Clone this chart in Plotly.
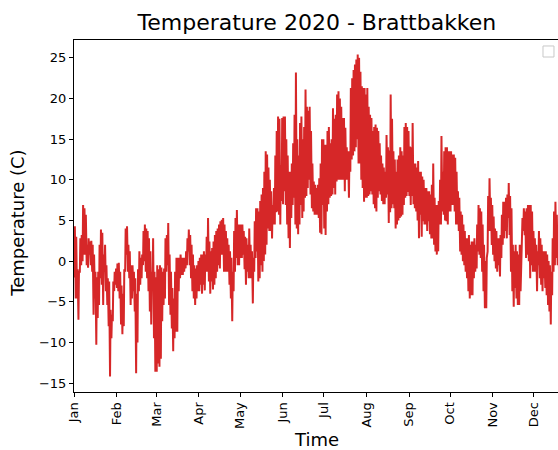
import plotly.graph_objects as go
import pandas as pd

# Daily low / high temperatures (C), 2020
jan_lo = [-2, -4.6, -4.6, -7.2, -1.3, -0.5, 0, 0.8, 0.8, -0.5, -0.8, 0.8, -0.5, -1.3, -6.6, -4.6, -10.3, -7, -5.4, -2.1, -2.9, -5.4, -1.3, -3.7, -5.4, -8, -14.2, -9.5, -7.4, -3.7, -2.9]
jan_hi = [4.3, 3, -1, -1.3, 2.8, 3.2, 6.9, 6.5, 5.7, 2, 2.8, 2.4, 2.5, 2, 0.8, -1.3, -2, -1.3, 2, 3.9, 3.5, 0.8, 2, -0.5, -2.1, -2.5, -6, -6.6, -2.5, -1.3, -0.9]
feb_lo = [-3.3, -3.7, -4.6, -7.8, -9, -8, -1.3, 0.8, -1.3, -2.1, -5.4, -4.6, -3.7, -6.2, -13.8, -10, -3.7, -2.9, -2.1, -0.5, 0, -1.3, -2.1, -3.7, -6.2, -7.8, -3, -9.5, -13.6]
feb_hi = [-0.3, -0.2, -1.3, -3, -4, -1, 4, 4.3, 2, 1.2, -0.5, -0.5, -1.3, -2.1, -4, -1, 1.2, 0.4, 0.8, 3.7, 4.5, 4, 3.7, 2.8, 1.2, -1.3, 2.8, -1.3, -2]
mar_lo = [-13.6, -12.6, -13, -12, -7.4, -5.4, -4.6, -1.3, -0.5, -5.4, -6.6, -8.3, -11.1, -9.5, -8.7, -8.7, -3.7, -2.1, -1.7, -1.7, -1.3, -0.9, -0.5, 1.2, -0.5, -2.1, -3.7, -4.6, -5.4, -4.6, -3.7]
mar_hi = [-0.5, -1, -0.5, -0.8, -1.3, -0.9, 2.8, 3.2, 4.7, 0.8, -1.3, -3.3, -4.6, -1.3, 0.4, 0.4, 0.4, 0.8, 0.4, 0.4, 0.4, 1.2, 2.8, 3.9, 3.2, 2, 0.8, -0.5, -0.9, -0.5, 0]
apr_lo = [-3.7, -2.9, -4, -2.9, -3.6, -1.3, -1.3, -2.5, -4, -2.5, -3.5, -2.9, -2.1, -1.3, -0.5, -0.9, 0.8, 0.8, -1.3, -1.3, -1.3, -1.3, -2.9, -4.6, -7.4, -3.7, -1.3, 0.4, -0.5, -0.5]
apr_hi = [0.4, 0.8, 0.8, 1.2, 0.8, 3, 5.3, 2.4, 1.2, 1.6, 2.4, 3.2, 3.7, 4, 4.5, 4.9, 5.1, 5.3, 4.5, 3.7, 2.8, 2, 1.2, 0.4, -1.3, 3.7, 5.3, 6.3, 4.5, 4.5]
may_lo = [0.4, 0.4, 0.8, -1, -2.9, -1.3, -2.1, -2.1, -2.1, -5.2, -1.3, 0.4, 1.2, -2.5, -2.1, -0.5, -1.3, 0, 0.8, 2, 4, 3.7, 3.7, 2.8, 4.5, 4.5, 6, 6.1, 5.7, 4.5, 7.4]
may_hi = [4.5, 4.5, 3.7, 3, 2.8, 2, 4, 2, 1.2, 0.4, 4.9, 6.5, 6.5, 6.1, 7.4, 8.2, 9, 11, 13.5, 13.1, 11.5, 10, 8.6, 6.9, 9, 13, 16, 17.8, 17.5, 11.8, 17.6]
jun_lo = [7, 8.6, 6.9, 4.5, 2.8, 1.6, 5.3, 6.9, 7.8, 4.5, 4, 3.3, 4.5, 6.9, 5.3, 6.1, 7.8, 8, 9, 10, 8.2, 6.5, 6.1, 5.7, 5.7, 5.7, 5.3, 3.5, 3.3, 6.9]
jun_hi = [17.8, 17.8, 15, 13, 11, 11, 12, 14.5, 18, 23.2, 15, 13, 17, 17.8, 15, 16.5, 21.1, 19, 18.5, 19, 16, 12, 9.8, 9.4, 9, 9.4, 10.2, 12, 15, 15]
jul_lo = [4, 3.2, 6.1, 7, 7.8, 8, 8.2, 9, 8.2, 9.8, 10, 10, 10, 10, 10, 8.6, 10, 10, 7.8, 11, 12.5, 13, 13.5, 14, 15, 12, 12, 10, 9, 7.3, 7.8]
jul_hi = [14.3, 14.3, 16, 16.5, 14.5, 15, 18.8, 17.5, 18, 20.5, 20.9, 20, 19, 17.6, 17.6, 16.4, 14, 13.5, 13.5, 21.3, 22.5, 23.5, 24.2, 24.8, 25.4, 25, 23.3, 21.5, 21.3, 21.3, 20.5]
aug_lo = [7.8, 8, 8.2, 8.6, 8.2, 7, 6.5, 6.1, 7.8, 8.6, 8.2, 7.4, 7, 7, 7.8, 8.2, 4.7, 6, 6.5, 7, 6.5, 4, 4.5, 5, 5.3, 5.5, 5.7, 6.9, 7.8, 8, 8.5]
aug_hi = [21.3, 19, 18, 17.6, 16, 16.5, 16.8, 16.4, 16, 14.5, 13, 12, 11.5, 11, 15.5, 14, 13.6, 20.5, 17.5, 13.5, 12.5, 11, 12.5, 13, 14, 13.5, 13, 16.5, 17, 16.5, 16]
sep_lo = [8, 6.9, 8, 7, 6.5, 6.1, 5, 2.8, 5.7, 3, 4.9, 4.5, 4.5, 3.7, 4.9, 3.3, 2.8, 2.8, 2, 1.2, 0.8, 1.2, 4.5, 4.5, 6.1, 5.7, 5, 4.9, 4.5, 6.1]
sep_hi = [14.1, 14, 17, 12, 12, 11.5, 12.3, 11, 11, 10.4, 10, 9, 9, 8.6, 8.6, 8.2, 9.4, 12, 7.8, 6.9, 6.9, 7.4, 10, 15.4, 11, 13.5, 14, 14, 13.5, 13.5]
oct_lo = [6.1, 6.9, 6.9, 6.1, 4.5, 4.5, 3.7, 1.2, 0.8, 0, -0.5, -1.3, -2.1, -3.7, -4.6, -4.2, -4.2, -2.1, -1.3, -0.9, 1.2, 0.8, 0.4, -1.3, -3.7, -5.8, -5.8, 1.2, 3.7, 3.7, 2]
oct_hi = [13.5, 13.1, 13.1, 12.7, 11, 8.6, 7.8, 6.1, 5.7, 4.5, 3.7, 2.8, 2.8, 3.2, 2, 2.4, 2.4, 2.8, 2, 4.5, 6.9, 6.5, 6.1, 4.5, 2, 0, 0.4, 8, 10.2, 7.8, 6.9]
nov_lo = [0.8, 0, -0.9, -1.3, -0.5, -1.9, 0.4, 2, 2.8, 3.7, 2.8, 5.3, 3.2, -1.3, -3.7, -5.6, -3.3, -4.6, -5.4, -5.4, -3.7, 1.8, 3.7, 3.2, 0.4, 0.8, 0, -2.1, -0.5, -1.3]
nov_hi = [5.5, 4, 3.7, 2.8, 2.8, 3.2, 5.7, 7.3, 7.3, 7.8, 8.2, 9.6, 8, 6.5, 2, 1.2, 2, 1.2, 0.8, 2, -0.5, 5.3, 6.5, 6.1, 6.5, 6.9, 6.9, 6.9, 6.1, 3.7]
dec_lo = [-1.3, -1.3, -3.7, -0.5, -2.1, -2.9, -3.7, -2.1, -3.3, -4.2, -5.4, -6.2, -7.8, -4.2, -1.3, -0.5, 0.4, -0.5, -1.3]
dec_hi = [2.8, 2, 1.2, 3.7, 2.8, 2, 1.2, 1.2, 1.2, 0.8, 0, -0.5, -1.3, 2.8, 6.1, 7.3, 5.7, 3.7, 3.2]

month_labels = ["Jan", "Feb", "Mar", "Apr", "May", "Jun", "Jul", "Aug", "Sep", "Oct", "Nov", "Dec"]
y_ticks = [-15, -10, -5, 0, 5, 10, 15, 20, 25]

lows = (jan_lo + feb_lo + mar_lo + apr_lo + may_lo + jun_lo + jul_lo + aug_lo
        + sep_lo + oct_lo + nov_lo + dec_lo)
highs = (jan_hi + feb_hi + mar_hi + apr_hi + may_hi + jun_hi + jul_hi + aug_hi
         + sep_hi + oct_hi + nov_hi + dec_hi)

days = pd.date_range("2020-01-01", periods=len(lows), freq="D")
xs, ys = [], []
for d, lo, hi in zip(days, lows, highs):
    xs.append(d + pd.Timedelta(hours=6))
    ys.append(lo)
    xs.append(d + pd.Timedelta(hours=15))
    ys.append(hi)

month_starts = pd.date_range("2020-01-01", periods=12, freq="MS")

fig = go.Figure()
fig.add_trace(go.Scatter(x=xs, y=ys, mode="lines",
                         line=dict(color="#d62728", width=2),
                         showlegend=False))

font_family = "DejaVu Sans"
fig.update_layout(
    width=558, height=450,
    margin=dict(l=74, r=0, t=40, b=58, autoexpand=False),
    paper_bgcolor="white", plot_bgcolor="white",
    showlegend=False,
    font=dict(family=font_family, color="black", size=13),
    title=dict(text="Temperature 2020 - Brattbakken", x=0.568, xanchor="center",
               y=0.951, yanchor="middle", font=dict(size=22, family=font_family, color="black")),
    xaxis=dict(type="date", range=["2020-01-01", "2020-12-18 12:00"],
               tickvals=list(month_starts), ticktext=month_labels, tickangle=-90,
               ticks="outside", ticklen=4, tickcolor="black", automargin=False,
               showline=True, linecolor="black", linewidth=1, mirror=True,
               showgrid=False, zeroline=False, tickfont=dict(size=13)),
    yaxis=dict(range=[-16.1, 27.2], tickvals=y_ticks, automargin=False,
               ticks="outside", ticklen=4, tickcolor="black",
               showline=True, linecolor="black", linewidth=1,
               showgrid=False, zeroline=False, tickfont=dict(size=13)),
    annotations=[
        dict(text="Temperature (C)", xref="paper", yref="paper", x=-0.1157, y=0.478,
             xanchor="center", yanchor="middle", textangle=-90, showarrow=False,
             font=dict(size=18, family=font_family, color="black")),
        dict(text="Time", xref="paper", yref="paper", x=0.502, y=-0.136,
             xanchor="center", yanchor="middle", showarrow=False, borderpad=0,
             font=dict(size=18, family=font_family, color="black")),
    ],
    shapes=[
        dict(type="rect", xref="paper", yref="paper", x0=0.969, x1=0.9917,
             y0=0.9517, y1=0.983, line=dict(color="#c8c8c8", width=1),
             fillcolor="white", layer="above"),
    ],
)

fig.write_html(
    "out.html",
    config={"displayModeBar": False},
    post_script="document.body.style.margin='0';document.body.style.overflow='hidden';",
)
